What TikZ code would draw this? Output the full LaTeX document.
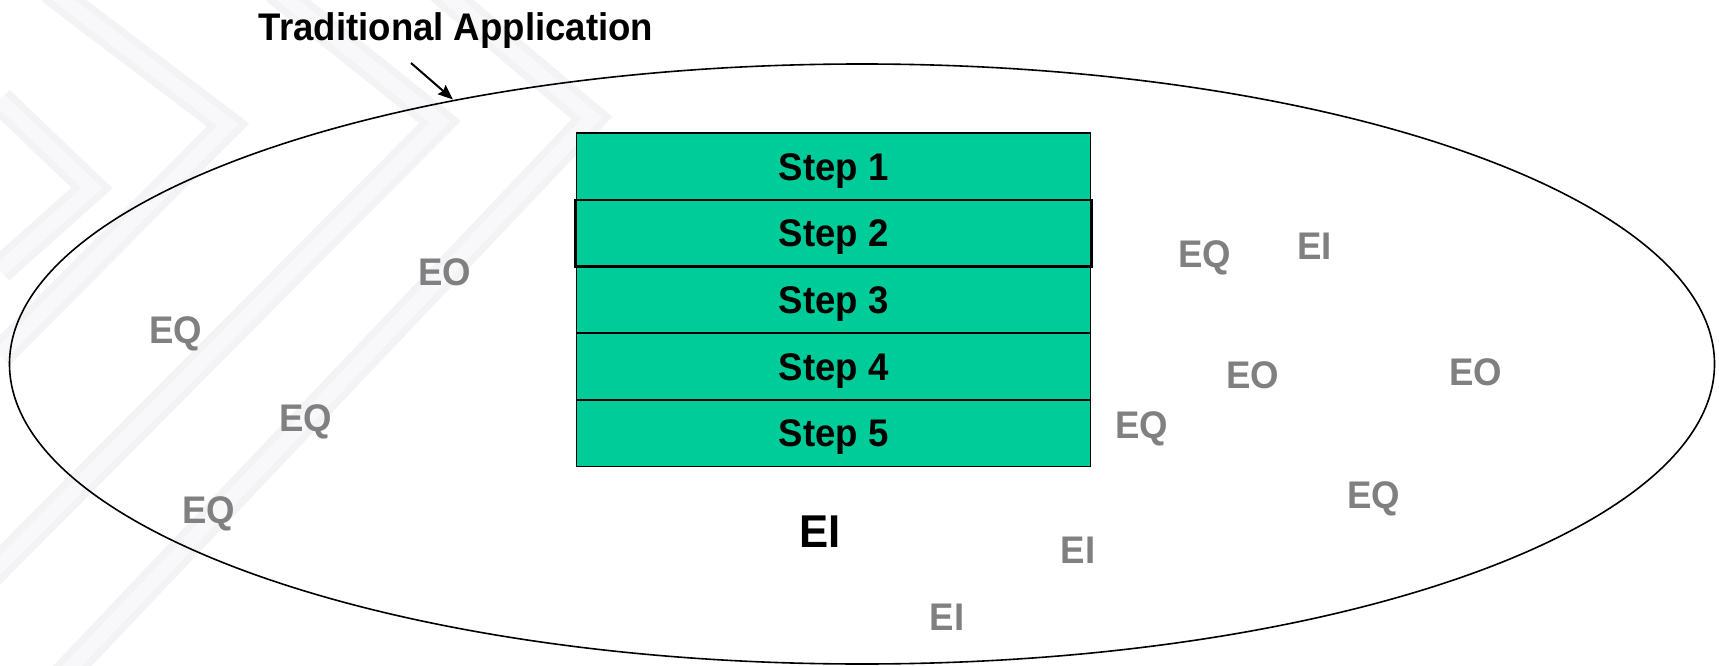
\documentclass[tikz,border=0pt]{standalone}
\usepackage{fontspec}
\setmainfont[FakeStretch=0.95]{Liberation Sans}
\usetikzlibrary{arrows.meta}
\definecolor{stepgreen}{RGB}{0,204,153}
\definecolor{lblgray}{RGB}{128,128,128}
\definecolor{wmouter}{RGB}{243,243,245}
\definecolor{wminner}{RGB}{248,248,250}
\begin{document}
\begin{tikzpicture}[x=1pt,y=-1pt,
  stepbox/.style={draw=black, line width=1.6pt, fill=stepgreen, minimum width=514pt, minimum height=66.7pt, inner sep=0pt,
    font=\fontsize{38.5}{44}\selectfont\bfseries, text height=27.5pt, text depth=0pt},
  lbl/.style={anchor=base, inner sep=0pt, text=lblgray, font=\fontsize{38.5}{44}\selectfont\bfseries},
  wmband/.style={line width=28pt, wmouter, line join=miter},
  wmcore/.style={line width=14pt, wminner, line join=miter}
]
\useasboundingbox (0,0) rectangle (1719,666);
\fill[white] (0,0) rectangle (1719,666);
% faint watermark chevrons
\foreach \p in {{(50,-10) -- (228,125) -- (0,355)}, {(0,100) -- (92,188) -- (0,270)}, {(275,-10) -- (440,122) -- (-10,575)}, {(440,-10) -- (592,118) -- (40,700)}}{
  \draw[wmband] \p;
  \draw[wmcore] \p;
}
% application boundary
\draw[line width=1.6pt] (862,364) ellipse [x radius=852.5pt, y radius=300pt];
% title and arrow
\node[anchor=base, inner sep=0pt, font=\fontsize{38.5}{44}\selectfont\bfseries] (title) at (456,40.5) {Traditional Application};
\coordinate (tail) at (411,63);
\coordinate (tip) at (453,99.5);
\draw[line width=2pt, -{Stealth[length=15pt, width=12pt, inset=2pt]}] (tail) -- (tip);
% steps
\node[stepbox] (s1) at (833.5,166.35) {Step 1};
\node[stepbox] (s3) at (833.5,299.75) {Step 3};
\node[stepbox] (s4) at (833.5,366.45) {Step 4};
\node[stepbox] (s5) at (833.5,433.15) {Step 5};
\node[stepbox, line width=2.2pt, minimum width=516pt] (s2) at (833.5,233.05) {Step 2};
% function labels
\node[lbl] (eo1) at (445,285) {EO};
\node[lbl] (eq1) at (175.5,343) {EQ};
\node[lbl] (eq2) at (306,431) {EQ};
\node[lbl] (eq3) at (209,523) {EQ};
\node[anchor=base, inner sep=0pt, font=\fontsize{46}{52}\selectfont\bfseries] (eib) at (820,547) {EI};
\node[lbl] (ei1) at (1078,563.5) {EI};
\node[lbl] (ei2) at (947,630) {EI};
\node[lbl] (eq4) at (1205,267.5) {EQ};
\node[lbl] (ei3) at (1314.5,259) {EI};
\node[lbl] (eo2) at (1253,388) {EO};
\node[lbl] (eo3) at (1476,385) {EO};
\node[lbl] (eq5) at (1142,438.5) {EQ};
\node[lbl] (eq6) at (1374,508.7) {EQ};
\end{tikzpicture}
\end{document}
